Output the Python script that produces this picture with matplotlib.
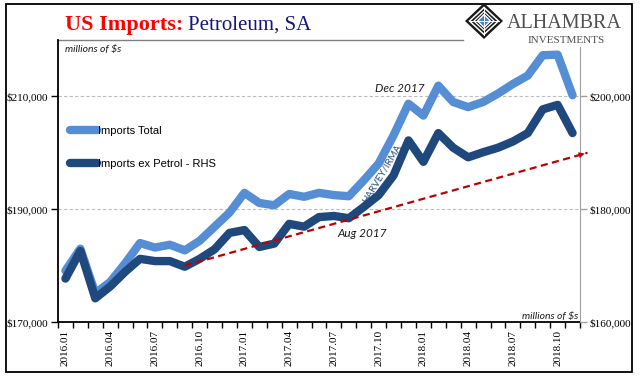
import matplotlib
matplotlib.use("Agg")
import matplotlib.pyplot as plt
from matplotlib.lines import Line2D
from matplotlib.patches import Polygon, Rectangle
from matplotlib.ticker import FuncFormatter

# ---------------------------------------------------------------------------
# Data
# ---------------------------------------------------------------------------
months = [f"{y}.{m:02d}" for y in (2016, 2017, 2018) for m in range(1, 13)][:35]

# left axis, millions of $
imports_total = [179100, 183000, 175100, 177100, 180400, 184000, 183200, 183700,
                 182700, 184400, 186900, 189400, 192900, 191100, 190700, 192700,
                 192200, 192900, 192500, 192300, 195100, 198100, 203100, 208700,
                 206600, 211900, 209000, 208100, 209000, 210500, 212200, 213700,
                 217300, 217400, 210200]
# right axis, millions of $
imports_ex_petrol = [167700, 172600, 164200, 166300, 168900, 171200, 170800, 170800,
                     169800, 171200, 172900, 175800, 176300, 173300, 173900, 177400,
                     176900, 178600, 178800, 178400, 180400, 182500, 186000, 192200,
                     188400, 193500, 190900, 189200, 190100, 190900, 192000, 193500,
                     197700, 198500, 193500]

# dashed trend arrow, right-axis units
trend_x = [8, 35]
trend_y = [170000, 190000]

left_ticks = [170000, 190000, 210000]
right_ticks = [160000, 180000, 200000]

LIGHT = "#558ED5"
DARK = "#1F497D"
RED = "#C00000"
NAVY = "#16167A"
SERIF = "Liberation Serif"
SANS = "Liberation Sans"
ITAL = "Lato"

W, H = 641, 381
fig = plt.figure(figsize=(W / 100, H / 100), dpi=100)

# plot area in pixels
px_l, px_r, px_b, px_t = 58, 580, 322, 40
ax = fig.add_axes([px_l / W, 1 - px_b / H, (px_r - px_l) / W, (px_b - px_t) / H])
ax2 = ax.twinx()

x = list(range(len(months)))
ax.plot(x, imports_total, color=LIGHT, lw=6, solid_joinstyle="round",
        solid_capstyle="round", label="Imports Total")
ax2.plot(x, imports_ex_petrol, color=DARK, lw=6, solid_joinstyle="round",
         solid_capstyle="round", label="Imports ex Petrol - RHS")

ax.set_xlim(-0.5, len(months) - 0.5)
ax.set_ylim(170000, 220000)
ax2.set_ylim(160000, 210000)

money = FuncFormatter(lambda v, _: f"${v:,.0f}")
ax.set_yticks(left_ticks)
ax.yaxis.set_major_formatter(money)
ax2.set_yticks(right_ticks)
ax2.yaxis.set_major_formatter(money)

ax.set_xticks(x[::3])
ax.set_xticklabels(months[::3], rotation=90)
ax.set_xticks([i - 0.5 for i in range(len(months) + 1)], minor=True)

ax.tick_params(axis="x", which="major", length=0, pad=6)
ax.tick_params(axis="x", which="minor", length=4, width=1, direction="out")
ax.tick_params(axis="y", length=5, width=1, direction="out", pad=2)
ax2.tick_params(axis="y", length=5, width=1, direction="out", pad=2, color="#A0A0A0")
for lab in ax.get_xticklabels() + ax.get_yticklabels() + ax2.get_yticklabels():
    lab.set_fontfamily(SERIF)
    lab.set_fontsize(8)

ax.yaxis.grid(True, ls=(0, (3, 2)), color="#BDBDBD", lw=0.8)
ax.set_axisbelow(True)

for s in ("top", "right"):
    ax.spines[s].set_visible(False)
for s in ("top", "left", "bottom"):
    ax2.spines[s].set_visible(False)
ax.spines["left"].set_linewidth(1.3)
ax.spines["bottom"].set_linewidth(1.3)
ax2.spines["right"].set_color("#A0A0A0")
ax2.spines["right"].set_bounds(160000, 208700)
ax.add_line(Line2D([0, (463 - px_l) / (px_r - px_l)], [1, 1], transform=ax.transAxes,
                   color="#808080", lw=1, clip_on=False))

# trend arrow
ax2.plot(trend_x, trend_y, color=RED, lw=1.6, ls=(0, (3.2, 2)), clip_on=False)
ax2.annotate("", xy=(trend_x[1], trend_y[1]),
             xytext=(trend_x[1] - 0.9, trend_y[1] - 0.9 * (trend_y[1] - trend_y[0]) / (trend_x[1] - trend_x[0])),
             arrowprops=dict(arrowstyle="-|>", color=RED, lw=0, mutation_scale=11),
             annotation_clip=False)

# legend
h1, l1 = ax.get_legend_handles_labels()
h2, l2 = ax2.get_legend_handles_labels()
ax2.legend(h1 + h2, l1 + l2, loc="center left", bbox_to_anchor=(0.023, 0.619),
           frameon=False, handlelength=2.4, handletextpad=0.1, labelspacing=2.1,
           borderaxespad=0, borderpad=0, prop={"family": SANS, "size": 8})

# annotations
ax2.text(22.4, 211400, "Dec 2017", transform=ax.transData, ha="center", va="center",
         family=ITAL, style="italic", fontsize=8.5, color="#1a1a1a")
ax2.text(19.9, 185700, "Aug 2017", transform=ax.transData, ha="center", va="center",
         family=ITAL, style="italic", fontsize=8.5, color="#1a1a1a")
ax2.text(21.2, 196300, "HARVEY/IRMA", transform=ax.transData, ha="center", va="center",
         rotation=59, family=ITAL, fontsize=7, color=DARK)
ax.text(0.0134, 0.968, "millions of $s", transform=ax.transAxes, ha="left", va="center",
        family=ITAL, style="italic", fontsize=7.5, color="#1a1a1a")
ax.text(0.996, 0.021, "millions of $s", transform=ax.transAxes, ha="right", va="center",
        family=ITAL, style="italic", fontsize=7.5, color="#1a1a1a")

# overlay in pixel coordinates: frame, title, logo
ov = fig.add_axes([0, 0, 1, 1], zorder=10)
ov.set_xlim(0, W)
ov.set_ylim(H, 0)
ov.axis("off")
ov.patch.set_alpha(0)

ov.add_patch(Rectangle((6, 4), 626, 368, fill=False, ec="black", lw=1.3))

ov.text(65, 30, "US Imports:", family=SERIF, weight="bold", fontsize=16,
        color="#FF0000", ha="left", va="baseline")
ov.text(188, 30, "Petroleum, SA", family=SERIF, fontsize=15,
        color=NAVY, ha="left", va="baseline")

cx, cy = 484, 21


def diamond(r, ry=None):
    ry = r if ry is None else ry
    return [(cx, cy - ry), (cx + r, cy), (cx, cy + ry), (cx - r, cy)]


ov.add_patch(Polygon(diamond(19, 18), closed=True, fc="#1a1a1a", ec="none"))
ov.add_patch(Polygon(diamond(14.5, 13.5), closed=True, fill=False, ec="white", lw=1.1))
ov.add_patch(Polygon(diamond(10, 9.5), closed=True, fill=False, ec="white", lw=0.9))
ov.plot([cx - 15, cx + 15], [cy, cy], color="white", lw=0.7)
ov.plot([cx, cx], [cy - 14, cy + 14], color="white", lw=0.7)
ov.add_patch(Polygon(diamond(6.5, 6.5), closed=True, fc="#3F82D8", ec="white", lw=1))

ov.text(507, 28, "ALHAMBRA", family=SERIF, fontsize=14.5, color="#505050",
        ha="left", va="baseline")
ov.text(566, 43, "INVESTMENTS", family=SERIF, fontsize=8, color="#505050",
        ha="center", va="baseline")

fig.savefig("out.png", dpi=100)
